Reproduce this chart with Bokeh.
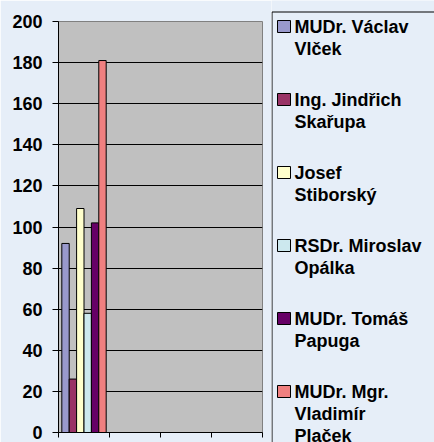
from bokeh.plotting import figure
from bokeh.layouts import row
from bokeh.models import Range1d, FixedTicker, ColumnDataSource
from bokeh.core.properties import value
from bokeh.embed import file_html
from bokeh.resources import INLINE

# ---- data ----
group_index = [0]          # the one filled category (of 4 category slots)
n_slots = 4
candidates = [
    "MUDr. Václav\nVlček",
    "Ing. Jindřich\nSkařupa",
    "Josef\nStiborský",
    "RSDr. Miroslav\nOpálka",
    "MUDr. Tomáš\nPapuga",
    "MUDr. Mgr.\nVladimír\nPlaček",
]
votes = [92, 26, 109, 58, 102, 181]
colors = ["#9999cc", "#993366", "#ffffcc", "#cce8ee", "#660066", "#f08080"]
y_ticks = [0, 20, 40, 60, 80, 100, 120, 140, 160, 180, 200]

FONT = "Liberation Sans"
BG = "#e6eef8"
H = 442

# ---- chart ----
p = figure(width=271, height=H, output_backend="svg", toolbar_location=None,
           x_range=Range1d(0, n_slots), y_range=Range1d(0, 200),
           min_border_left=58, min_border_top=21, min_border_bottom=10, min_border_right=9)
p.frame_align = False
p.border_fill_color = BG
p.background_fill_color = "#c0c0c0"
p.outline_line_color = "#808080"

p.yaxis.ticker = FixedTicker(ticks=y_ticks)
p.yaxis.axis_line_color = "black"
p.yaxis.major_tick_line_color = "black"
p.yaxis.major_tick_out = 6
p.yaxis.major_tick_in = 0
p.yaxis.minor_tick_line_color = None
p.yaxis.major_label_text_font = FONT
p.yaxis.major_label_text_font_style = "bold"
p.yaxis.major_label_text_font_size = "18px"
p.yaxis.major_label_text_color = "black"
p.yaxis.major_label_standoff = 10

p.xaxis.ticker = FixedTicker(ticks=list(range(n_slots + 1)))
p.xaxis.axis_line_color = "black"
p.xaxis.major_tick_line_color = "black"
p.xaxis.major_tick_out = 5
p.xaxis.major_tick_in = 0
p.xaxis.minor_tick_line_color = None
p.xaxis.major_label_overrides = {i: "" for i in range(n_slots + 1)}
p.xaxis.major_label_standoff = 0

p.xgrid.grid_line_color = None
p.ygrid.grid_line_color = "black"
p.ygrid.grid_line_width = 1

bar_w = 0.145
n = len(votes)
for i, (v, c) in enumerate(zip(votes, colors)):
    xs = [g + 0.5 + (i - (n - 1) / 2) * bar_w for g in group_index]
    src = ColumnDataSource(dict(x=xs, top=[v] * len(xs)))
    p.vbar(x="x", top="top", width=bar_w, bottom=0, source=src,
           fill_color=c, line_color="black", line_width=1)

# ---- legend panel (pixel coordinates, y downwards) ----
LW = 163
lg = figure(width=LW, height=H, output_backend="svg", toolbar_location=None,
            x_range=Range1d(0, LW), y_range=Range1d(H, 0),
            x_axis_type=None, y_axis_type=None, title=None,
            min_border_left=0, min_border_right=0,
            min_border_top=0, min_border_bottom=0)
lg.frame_align = False
lg.border_fill_color = BG
lg.background_fill_color = BG
lg.outline_line_color = None
lg.grid.grid_line_color = None

# legend box (extends past the right edge, as in the original)
lg.quad(left=0.5, right=LW + 50, top=11.5, bottom=H + 50,
        fill_color=None, line_color="black", line_width=1)

pitch = 73
first_center = 26
gx, gy, gc = [], [], []
tx, ty, tt = [], [], []
for i, (name, c) in enumerate(zip(candidates, colors)):
    cy = first_center + pitch * i
    gx.append(12.5)
    gy.append(cy)
    gc.append(c)
    for j, line in enumerate(name.split("\n")):
        tx.append(23)
        ty.append(cy + 22 * j)
        tt.append(line)

lg.rect(x=gx, y=gy, width=13, height=12, fill_color=gc,
        line_color="black", line_width=1)
lg.text(x=tx, y=ty, text=tt, text_font=value(FONT), text_font_style="bold",
        text_font_size="18px", text_color="black", text_baseline="middle",
        text_align="left")

layout = row(p, lg, spacing=0)
open("out.html", "w").write(file_html(layout, INLINE))
